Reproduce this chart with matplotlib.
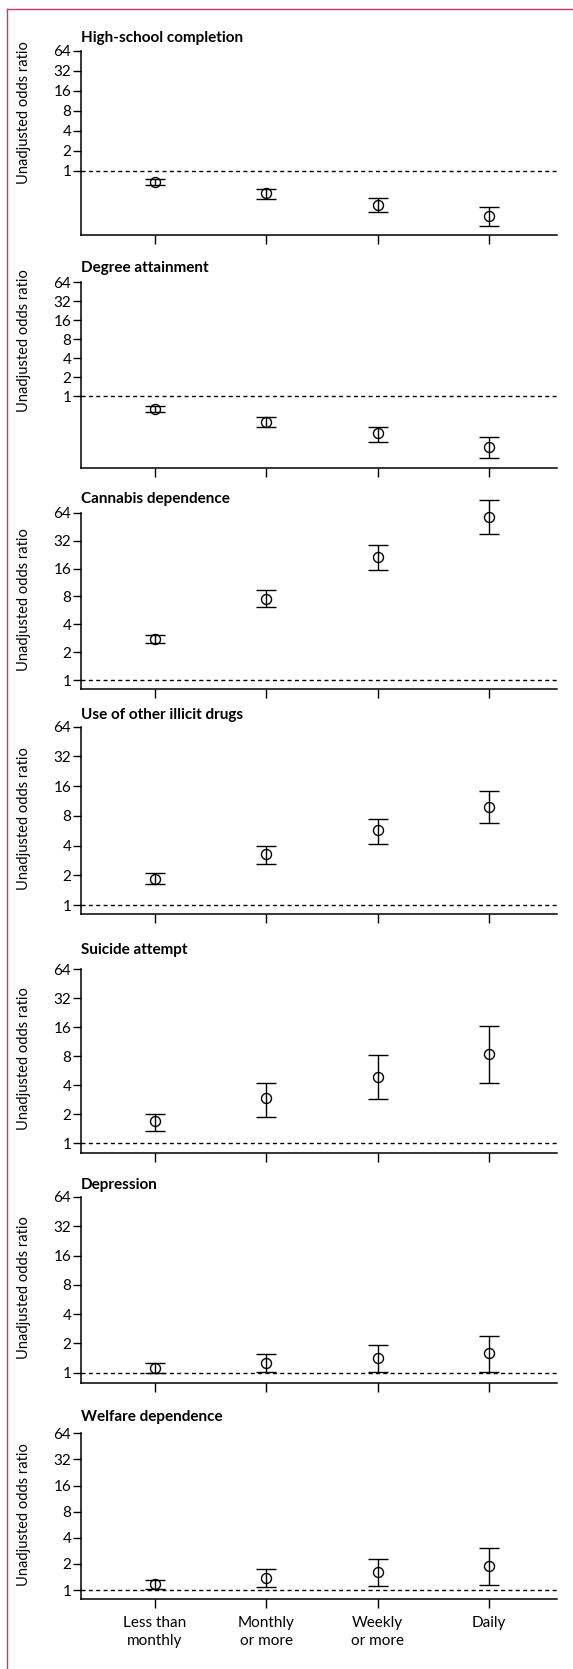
import numpy as np
import matplotlib
matplotlib.use('Agg')
import matplotlib.pyplot as plt
import matplotlib.transforms as mtransforms
from matplotlib.lines import Line2D
from matplotlib.ticker import NullLocator, FixedLocator, FixedFormatter

outcomes = ['High-school completion', 'Degree attainment', 'Cannabis dependence',
            'Use of other illicit drugs', 'Suicide attempt', 'Depression',
            'Welfare dependence']
frequency = ['Less than\nmonthly', 'Monthly\nor more', 'Weekly\nor more', 'Daily']
y_ticks = [1, 2, 4, 8, 16, 32, 64]

# unadjusted odds ratios, one row per outcome
odds_ratio = [
    [0.67, 0.46, 0.305, 0.21],
    [0.62, 0.39, 0.255, 0.156],
    [2.78, 7.6, 21.2, 58.4],
    [1.83, 3.27, 5.7, 9.9],
    [1.69, 2.92, 4.93, 8.5],
    [1.11, 1.24, 1.40, 1.57],
    [1.17, 1.37, 1.61, 1.88],
]
ci_lower = [
    [0.60, 0.375, 0.24, 0.149],
    [0.55, 0.32, 0.187, 0.104],
    [2.51, 6.2, 15.3, 38.0],
    [1.62, 2.63, 4.17, 6.8],
    [1.35, 1.87, 2.85, 4.25],
    [1.0, 1.02, 1.02, 1.02],
    [1.04, 1.07, 1.11, 1.15],
]
ci_upper = [
    [0.75, 0.536, 0.39, 0.287],
    [0.70, 0.47, 0.325, 0.225],
    [3.08, 9.4, 28.8, 89.4],
    [2.11, 3.97, 7.45, 14.3],
    [2.0, 4.25, 8.3, 16.7],
    [1.24, 1.54, 1.93, 2.40],
    [1.31, 1.75, 2.3, 3.05],
]

W, H = 573, 1669
fig = plt.figure(figsize=(W / 100, H / 100), dpi=100)
plt.rcParams['font.family'] = ['Lato', 'DejaVu Sans']

# panel geometry in pixels: top of axis (at 64), bottom spine, y of the "1" line
panel_top = [50.7, 282.5, 513, 726.7, 969.3, 1197, 1433.3]
panel_bottom = [235, 467.7, 689, 914, 1152.7, 1382.5, 1599.3]
panel_one = [170.7, 396, 680, 905, 1143.3, 1372.5, 1590]
title_y = [37.7, 267.7, 499, 715, 950, 1185, 1417.3]

left_px, right_px = 81, 557
x = np.arange(len(frequency))

for i, name in enumerate(outcomes):
    top, bot, one = panel_top[i], panel_bottom[i], panel_one[i]
    step = (one - top) / 6
    low = 2 ** (-(bot - one) / step)
    ax = fig.add_axes([left_px / W, 1 - bot / H, (right_px - left_px) / W, (bot - top) / H])
    ax.set_yscale('log', base=2)
    ax.set_ylim(low, 64)
    ax.set_xlim(-0.665, 3.613)

    ax.axhline(1, color='black', lw=1.0, ls=(0, (2.9, 2.4)), zorder=1)

    orv = np.array(odds_ratio[i])
    lo = np.array(ci_lower[i])
    hi = np.array(ci_upper[i])
    ax.errorbar(x, orv, yerr=[orv - lo, hi - orv], fmt='o', ms=7.2,
                mfc='none', mec='black', mew=1.0, color='black',
                elinewidth=1.0, capsize=7.4, capthick=1.0, clip_on=False, zorder=3)

    for s in ['top', 'right']:
        ax.spines[s].set_visible(False)
    for s in ['left', 'bottom']:
        ax.spines[s].set_linewidth(1.1)

    ax.yaxis.set_major_locator(FixedLocator(y_ticks))
    ax.yaxis.set_major_formatter(FixedFormatter([str(t) for t in y_ticks]))
    ax.yaxis.set_minor_locator(NullLocator())
    ax.set_xticks(x)
    if i == len(outcomes) - 1:
        ax.set_xticklabels(frequency, linespacing=1.4)
    else:
        ax.set_xticklabels([])
    ax.tick_params(axis='y', length=5.5, width=1.0, pad=1.5, labelsize=11)
    ax.tick_params(axis='x', length=6.3, width=1.0, pad=5.5, labelsize=11)

    ax.set_ylabel('Unadjusted odds ratio', fontsize=10.5)
    trans = mtransforms.blended_transform_factory(fig.transFigure, ax.transData)
    ax.yaxis.set_label_coords(31 / W, 7.5, transform=trans)

    fig.text(left_px / W, 1 - title_y[i] / H, name, fontsize=11, fontweight='bold',
             ha='left', va='center')

# pink frame round the figure (cut at right and bottom)
frame_col = '#c8385a'
fig.add_artist(Line2D([7 / W, 7 / W], [0, 1 - 9.3 / H], color=frame_col, lw=1.0,
                      transform=fig.transFigure))
fig.add_artist(Line2D([7 / W, 1], [1 - 9.3 / H, 1 - 9.3 / H], color=frame_col, lw=1.0,
                      transform=fig.transFigure))

fig.savefig('out.png', dpi=100)
